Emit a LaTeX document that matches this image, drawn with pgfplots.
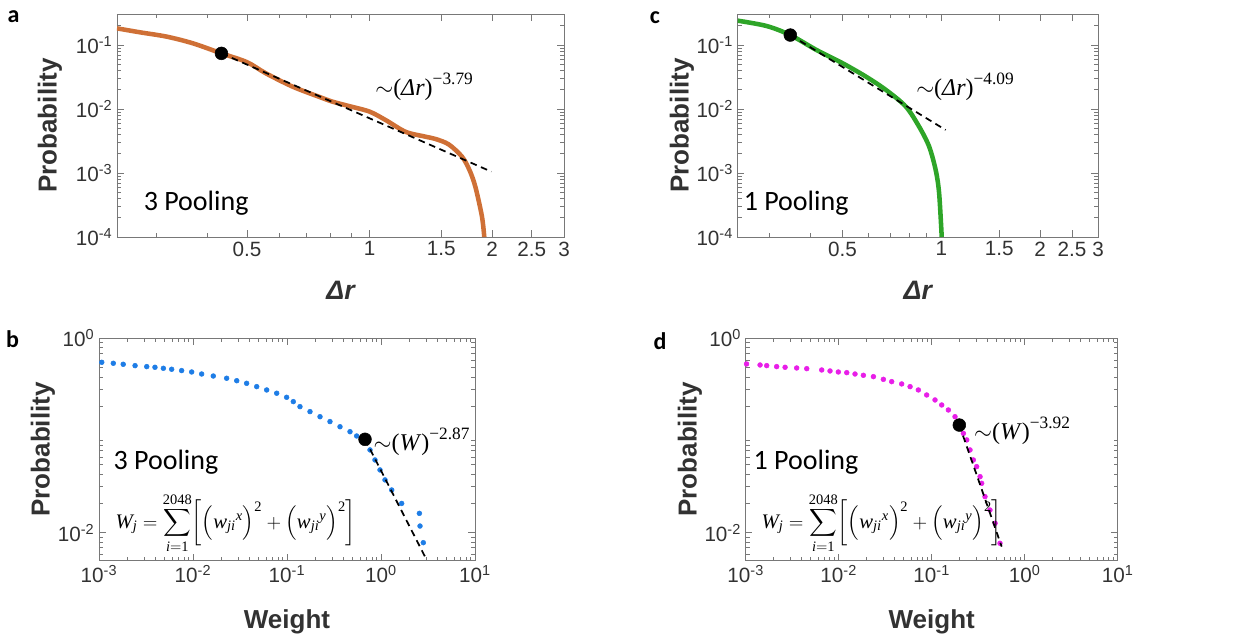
\documentclass[border=0pt]{standalone}
\usepackage{amsmath}
\usepackage{exscale}
\usepackage{pgfplots}
\pgfplotsset{compat=1.18}
\usepackage{fontspec}
\setmainfont{Liberation Sans}
\newfontfamily\calfont{Carlito}
\newfontfamily\tnr{Liberation Serif}
\definecolor{orangeC}{RGB}{207,112,54}
\definecolor{greenC}{RGB}{46,165,40}
\definecolor{blueC}{RGB}{30,125,230}
\definecolor{magC}{RGB}{232,30,232}
\definecolor{axgray}{RGB}{120,120,120}
\definecolor{txtgray}{RGB}{50,50,50}

\pgfplotstableread{
x y
0.24 0.182
0.273 0.158
0.318 0.135
0.369 0.106
0.433 0.074
0.50 0.054
0.557 0.036
0.648 0.0223
0.752 0.0155
0.812 0.013
0.891 0.0111
1.0 0.0091
1.096 0.0067
1.226 0.0044
1.37 0.0037
1.452 0.0034
1.564 0.0028
1.686 0.0018
1.76 0.0011
1.818 0.00061
1.887 0.00021
1.912 0.0001
}\curveA

\pgfplotstableread{
x y
0.24 0.24
0.294 0.198
0.347 0.143
0.417 0.0835
0.501 0.0518
0.590 0.032
0.679 0.0198
0.780 0.0109
0.856 0.0053
0.918 0.0026
0.962 0.0011
0.985 0.00048
1.003 0.0001
}\curveC

\pgfplotstableread{
x y
0.00107 0.566
0.00142 0.553
0.00181 0.540
0.00242 0.523
0.00322 0.511
0.00394 0.503
0.00484 0.491
0.00593 0.480
0.00757 0.465
0.00968 0.450
0.01236 0.429
0.01644 0.409
0.0228 0.388
0.0292 0.366
0.0372 0.344
0.0476 0.318
0.0608 0.294
0.0777 0.272
0.0991 0.247
0.1167 0.223
0.1374 0.198
0.1756 0.176
0.2245 0.156
0.2866 0.139
0.3664 0.123
0.468 0.1094
0.551 0.0988
0.764 0.071
0.863 0.056
0.976 0.0442
1.103 0.0349
1.299 0.0275
1.66 0.020
2.56 0.0158
2.60 0.0117
2.82 0.00789
}\scatB

\pgfplotstableread{
x y
0.00102 0.544
0.001426 0.531
0.00168 0.523
0.00215 0.511
0.00265 0.503
0.00353 0.495
0.00453 0.487
0.00656 0.472
0.00806 0.461
0.0099 0.450
0.0122 0.443
0.01497 0.429
0.0184 0.416
0.0236 0.403
0.0302 0.378
0.0371 0.358
0.0475 0.339
0.0585 0.318
0.0718 0.294
0.0882 0.261
0.1085 0.232
0.128 0.206
0.151 0.183
0.178 0.156
0.219 0.105
0.238 0.090
0.258 0.071
0.280 0.056
0.304 0.0478
0.331 0.0377
0.3445 0.0322
0.374 0.0235
0.423 0.0171
0.480 0.0125
0.542 0.00778
}\scatD

\newcommand{\ti}[1]{\text{\tnr\itshape #1}}
\newcommand{\tu}[1]{\text{\tnr #1}}
\newcommand{\pool}[1]{{\calfont\fontsize{21}{21}\selectfont #1 Pooling}}
\newcommand{\formula}{\fontsize{15.5}{17.2}\selectfont$\displaystyle \ti{W}_{\ti{j}}=\sum_{\ti{i}=\tu{1}}^{\tu{2048}}\biggl[\Bigl(\ti{w}_{\ti{ji}}{}^{\ti{x}}\Bigr)^{\tu{2}}+\Bigl(\ti{w}_{\ti{ji}}{}^{\ti{y}}\Bigr)^{\tu{2}}\biggr]$}
\newcommand{\expo}[1]{\raisebox{0.45em}{\fontsize{13}{13}\selectfont #1}}
\newcommand{\ttl}{\fontsize{15.5}{15.5}\selectfont}
\newcommand{\lbl}{\bfseries\fontsize{19.5}{20}\selectfont}
\newcommand{\annot}[2]{{\fontsize{18}{18}\selectfont$\sim$\tnr(\textit{#1})\expo{#2}}}

\begin{document}
\begin{tikzpicture}
\useasboundingbox (0,0) rectangle (935.25pt,-479.25pt);

% ---- panel a
\begin{axis}[at={(87.75pt,-10.5pt)}, anchor=north west, width=335.25pt, height=167.25pt,
    scale only axis, xmode=log, ymode=log, clip mode=individual,
    axis line style={draw=axgray, line width=0.7pt},
    tick style={draw=axgray, line width=0.5pt},
    major tick length=5pt, minor tick length=3pt,
    ticklabel style={font=\ttl, text=txtgray},
    xmin=0.24, xmax=3, ymin=1e-4, ymax=0.305,
    xtick={0.5,1,1.5,2,2.5,3}, xticklabels={0.5,1,1.5,2,2.5,3},
    minor xtick={0.3,0.4,0.6,0.7,0.8,0.9},
    ytick={1e-4,1e-3,1e-2,1e-1},
    yticklabels={10\textsuperscript{-4},10\textsuperscript{-3},10\textsuperscript{-2},10\textsuperscript{-1}},
    minor ytick={2e-4,3e-4,4e-4,5e-4,6e-4,7e-4,8e-4,9e-4,2e-3,3e-3,4e-3,5e-3,6e-3,7e-3,8e-3,9e-3,2e-2,3e-2,4e-2,5e-2,6e-2,7e-2,8e-2,9e-2,2e-1,3e-1},
    xlabel={\bfseries\itshape\fontsize{20}{20}\selectfont Δr},
    xlabel style={at={(axis description cs:0.5,-0.238)}, anchor=center, text=txtgray},
    ylabel={\lbl Probability},
    ylabel style={at={(axis description cs:-0.15,0.5)}, anchor=center, text=txtgray},
]
\addplot[orangeC, line width=3.4pt, smooth] table[x=x,y=y] {\curveA};
\addplot[black, line width=1.3pt, dash pattern=on 5pt off 3.5pt] coordinates {(0.433,0.074) (1.99,0.00105)};
\addplot[only marks, mark=*, mark size=4.8pt, black] coordinates {(0.433,0.074)};
\node[anchor=center, inner sep=0pt] at (rel axis cs:0.177,0.152) {\pool{3}};
\node[anchor=center, inner sep=0pt] at (rel axis cs:0.687,0.673) {\annot{Δr}{−3.79}};
\end{axis}

% ---- panel c
\begin{axis}[at={(553.3pt,-10.5pt)}, anchor=north west, width=270.2pt, height=167.25pt,
    scale only axis, xmode=log, ymode=log, clip mode=individual,
    axis line style={draw=axgray, line width=0.7pt},
    tick style={draw=axgray, line width=0.5pt},
    major tick length=5pt, minor tick length=3pt,
    ticklabel style={font=\ttl, text=txtgray},
    xmin=0.24, xmax=3, ymin=1e-4, ymax=0.305,
    xtick={0.5,1,1.5,2,2.5,3}, xticklabels={0.5,1,1.5,2,2.5,3},
    minor xtick={0.3,0.4,0.6,0.7,0.8,0.9},
    ytick={1e-4,1e-3,1e-2,1e-1},
    yticklabels={10\textsuperscript{-4},10\textsuperscript{-3},10\textsuperscript{-2},10\textsuperscript{-1}},
    minor ytick={2e-4,3e-4,4e-4,5e-4,6e-4,7e-4,8e-4,9e-4,2e-3,3e-3,4e-3,5e-3,6e-3,7e-3,8e-3,9e-3,2e-2,3e-2,4e-2,5e-2,6e-2,7e-2,8e-2,9e-2,2e-1,3e-1},
    xlabel={\bfseries\itshape\fontsize{20}{20}\selectfont Δr},
    xlabel style={at={(axis description cs:0.5,-0.238)}, anchor=center, text=txtgray},
    ylabel={\lbl Probability},
    ylabel style={at={(axis description cs:-0.155,0.5)}, anchor=center, text=txtgray},
]
\addplot[greenC, line width=3.4pt, smooth] table[x=x,y=y] {\curveC};
\addplot[black, line width=1.3pt, dash pattern=on 5pt off 3.5pt] coordinates {(0.347,0.143) (1.031,0.0047)};
\addplot[only marks, mark=*, mark size=4.8pt, black] coordinates {(0.347,0.143)};
\node[anchor=center, inner sep=0pt] at (rel axis cs:0.162,0.152) {\pool{1}};
\node[anchor=center, inner sep=0pt] at (rel axis cs:0.631,0.673) {\annot{Δr}{−4.09}};
\end{axis}

% ---- panel b
\begin{axis}[at={(74.25pt,-253.7pt)}, anchor=north west, width=282pt, height=166.8pt,
    scale only axis, xmode=log, ymode=log, clip mode=individual,
    axis line style={draw=axgray, line width=0.7pt},
    tick style={draw=axgray, line width=0.5pt},
    major tick length=5pt, minor tick length=3pt,
    ticklabel style={font=\ttl, text=txtgray},
    xmin=1e-3, xmax=10, ymin=0.00515, ymax=1,
    xtick={1e-3,1e-2,1e-1,1,10},
    xticklabels={10\textsuperscript{-3},10\textsuperscript{-2},10\textsuperscript{-1},10\textsuperscript{0},10\textsuperscript{1}},
    minor xtick={2e-3,3e-3,4e-3,5e-3,6e-3,7e-3,8e-3,9e-3,2e-2,3e-2,4e-2,5e-2,6e-2,7e-2,8e-2,9e-2,2e-1,3e-1,4e-1,5e-1,6e-1,7e-1,8e-1,9e-1,2,3,4,5,6,7,8,9},
    ytick={1e-2,1}, yticklabels={10\textsuperscript{-2},10\textsuperscript{0}},
    minor ytick={6e-3,7e-3,8e-3,9e-3,2e-2,3e-2,4e-2,5e-2,6e-2,7e-2,8e-2,9e-2,2e-1,3e-1,4e-1,5e-1,6e-1,7e-1,8e-1,9e-1},
    xlabel={\lbl Weight},
    xlabel style={at={(axis description cs:0.5,-0.274)}, anchor=center, text=txtgray},
    ylabel={\lbl Probability},
    ylabel style={at={(axis description cs:-0.149,0.5)}, anchor=center, text=txtgray},
]
\addplot[only marks, mark=*, mark size=1.8pt, blueC, mark options={draw=none, fill=blueC}] table[x=x,y=y] {\scatB};
\addplot[black, line width=1.3pt, dash pattern=on 5pt off 3.5pt] coordinates {(0.676,0.0913) (2.94,0.00566)};
\addplot[only marks, mark=*, mark size=4.8pt, black] coordinates {(0.676,0.0913)};
\node[anchor=center, inner sep=0pt] at (rel axis cs:0.178,0.444) {\pool{3}};
\node[anchor=center, inner sep=0pt] at (rel axis cs:0.364,0.17) {\formula};
\node[anchor=center, inner sep=0pt] at (rel axis cs:0.858,0.534) {\annot{W}{−2.87}};
\end{axis}

% ---- panel d
\begin{axis}[at={(559.3pt,-253.7pt)}, anchor=north west, width=279pt, height=166.8pt,
    scale only axis, xmode=log, ymode=log, clip mode=individual,
    axis line style={draw=axgray, line width=0.7pt},
    tick style={draw=axgray, line width=0.5pt},
    major tick length=5pt, minor tick length=3pt,
    ticklabel style={font=\ttl, text=txtgray},
    xmin=1e-3, xmax=10, ymin=0.00515, ymax=1,
    xtick={1e-3,1e-2,1e-1,1,10},
    xticklabels={10\textsuperscript{-3},10\textsuperscript{-2},10\textsuperscript{-1},10\textsuperscript{0},10\textsuperscript{1}},
    minor xtick={2e-3,3e-3,4e-3,5e-3,6e-3,7e-3,8e-3,9e-3,2e-2,3e-2,4e-2,5e-2,6e-2,7e-2,8e-2,9e-2,2e-1,3e-1,4e-1,5e-1,6e-1,7e-1,8e-1,9e-1,2,3,4,5,6,7,8,9},
    ytick={1e-2,1}, yticklabels={10\textsuperscript{-2},10\textsuperscript{0}},
    minor ytick={6e-3,7e-3,8e-3,9e-3,2e-2,3e-2,4e-2,5e-2,6e-2,7e-2,8e-2,9e-2,2e-1,3e-1,4e-1,5e-1,6e-1,7e-1,8e-1,9e-1},
    xlabel={\lbl Weight},
    xlabel style={at={(axis description cs:0.5,-0.274)}, anchor=center, text=txtgray},
    ylabel={\lbl Probability},
    ylabel style={at={(axis description cs:-0.15,0.5)}, anchor=center, text=txtgray},
]
\addplot[only marks, mark=*, mark size=1.8pt, magC, mark options={draw=none, fill=magC}] table[x=x,y=y] {\scatD};
\addplot[black, line width=1.3pt, dash pattern=on 5pt off 3.5pt] coordinates {(0.198,0.128) (0.565,0.00718)};
\addplot[only marks, mark=*, mark size=4.8pt, black] coordinates {(0.198,0.128)};
\node[anchor=center, inner sep=0pt] at (rel axis cs:0.162,0.444) {\pool{1}};
\node[anchor=center, inner sep=0pt] at (rel axis cs:0.366,0.17) {\formula};
\node[anchor=center, inner sep=0pt] at (rel axis cs:0.743,0.583) {\annot{W}{−3.92}};
\end{axis}

% panel letters
\node[font=\calfont\bfseries\fontsize{18}{18}\selectfont] at (10.1pt,-12.75pt) {a};
\node[font=\calfont\bfseries\fontsize{18}{18}\selectfont] at (491.25pt,-13.5pt) {c};
\node[font=\calfont\bfseries\fontsize{18}{18}\selectfont] at (9.4pt,-254.25pt) {b};
\node[font=\calfont\bfseries\fontsize{18}{18}\selectfont] at (495pt,-255.75pt) {d};
\end{tikzpicture}
\end{document}
